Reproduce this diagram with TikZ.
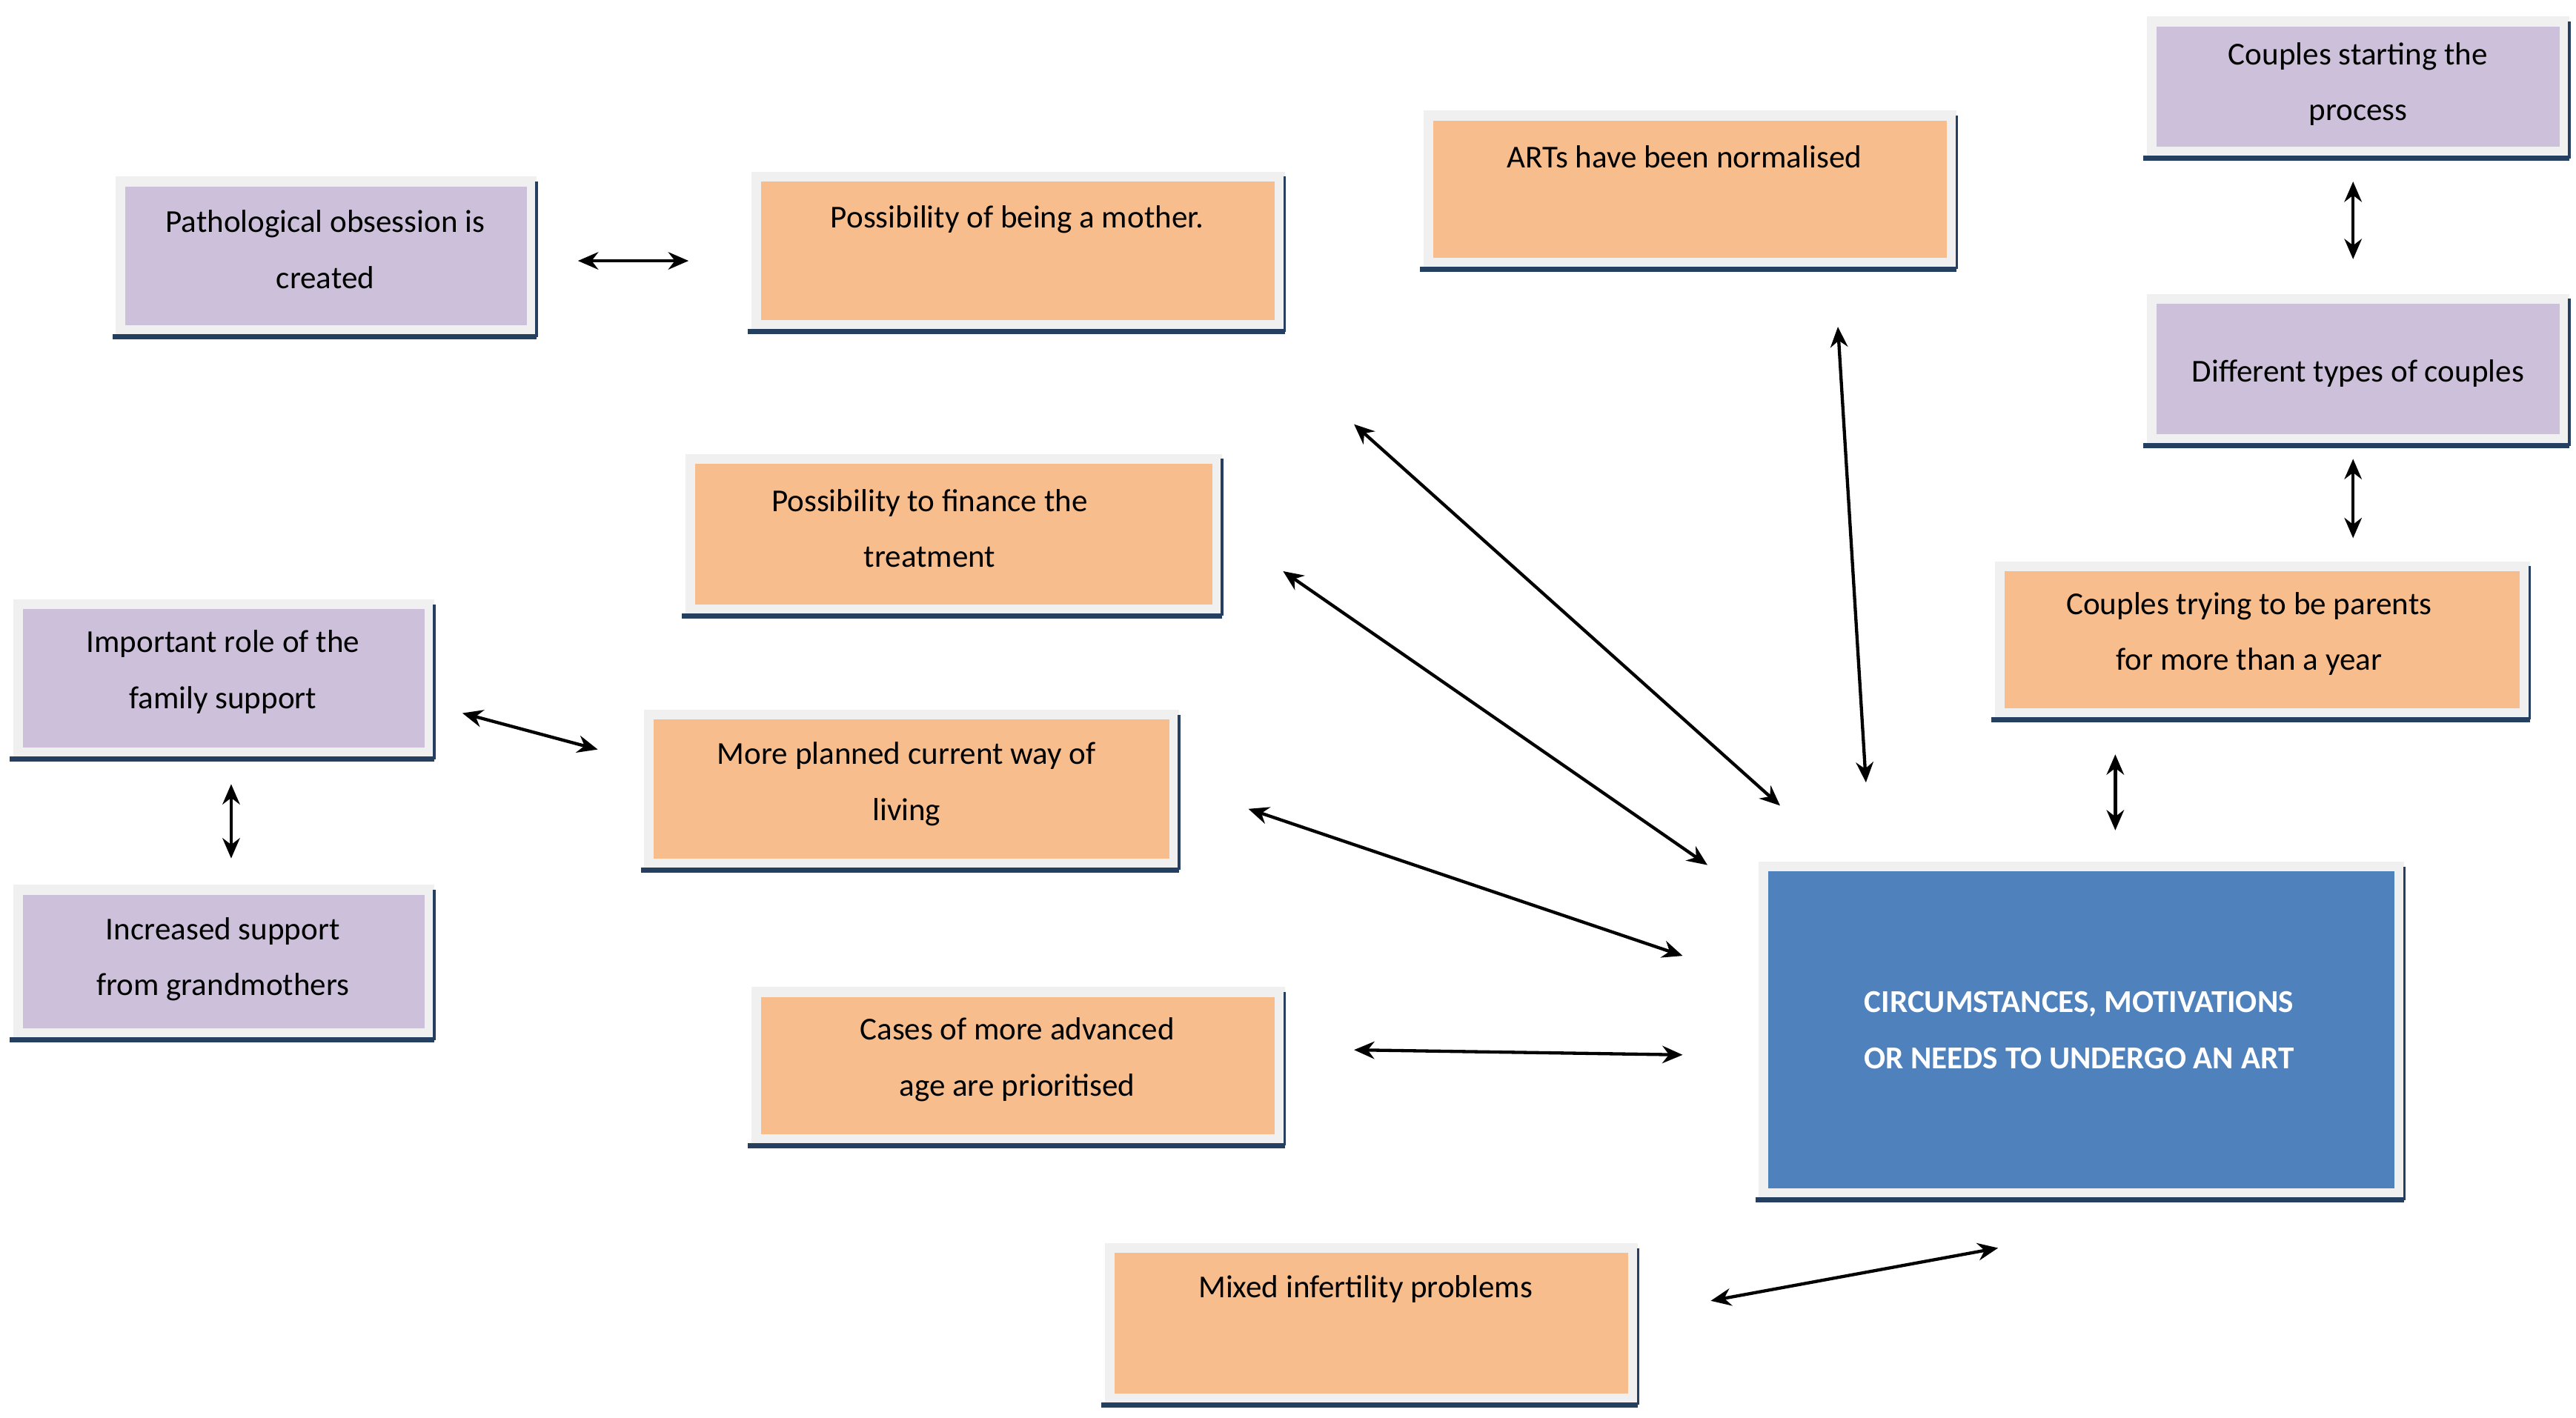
\documentclass[tikz,border=0pt]{standalone}
\usepackage{fontspec}
\setmainfont{Carlito}
\usetikzlibrary{arrows.meta}
\definecolor{orn}{HTML}{F8BD8D}
\definecolor{pur}{HTML}{CCC0DA}
\definecolor{frm}{HTML}{F0F0F0}
\definecolor{drk}{HTML}{243F60}
\definecolor{blu}{HTML}{4F81BD}
\newcommand\mybox[9]{%
  \fill[frm] (#2,#3) rectangle (#4,#5);
  \fill[#6] (#2+6,#3+6) rectangle (#4-6,#5-7);
  \draw[drk,line width=1.8pt] (#2-2,#5) -- (#4,#5);
  \draw[drk,line width=0.9pt] (#4,#3+3) -- (#4,#5);
  \node[inner sep=0pt] (#1) at ({(#2+#4)/2},{(#3+#5)/2}) [minimum width={(#4-#2)*0.02cm}, minimum height={(#5-#3)*0.02cm}] {};
  \node[txt] at (#7,#8) {#9};
}
\begin{document}
\begin{tikzpicture}[x=0.02cm,y=-0.02cm,
  txt/.style={align=center,font=\fontsize{11}{19.3}\selectfont,inner sep=0pt},
  arr/.style={{Stealth[length=7pt,width=6pt]}-{Stealth[length=7pt,width=6pt]},line width=1.1pt}]
\useasboundingbox (0,0) rectangle (1560,858.6);
\mybox{b1}{70}{107}{325}{204}{pur}{197}{151}{Pathological obsession is\\created}
\mybox{b2}{455}{104}{778}{201}{orn}{616}{133}{Possibility of being a mother.}
\mybox{b3}{862}{67}{1185}{163}{orn}{1020}{95}{ARTs have been normalised}
\mybox{b4}{1300}{10}{1556}{96}{pur}{1428}{51}{Couples starting the\\process}
\mybox{b5}{1300}{178}{1556}{270}{pur}{1428}{226}{Different types of couples}
\mybox{b6}{1208}{340}{1532}{436}{orn}{1362}{384}{Couples trying to be parents\\for more than a year}
\mybox{b7}{415}{275}{740}{373}{orn}{563}{320}{Possibility to finance the\\treatment}
\mybox{b8}{8}{363}{263}{460}{pur}{135}{407}{Important role of the\\family support}
\mybox{b9}{390}{430}{714}{527}{orn}{549}{475}{More planned current way of\\living}
\mybox{b10}{8}{536}{263}{630}{pur}{135}{581}{Increased support\\from grandmothers}
\mybox{b11}{455}{598}{778}{694}{orn}{616}{642}{Cases of more advanced\\age are prioritised}
\mybox{b12}{1065}{522}{1456}{727}{blu}{1259}{624}{\color{white}\bfseries CIRCUMSTANCES, MOTIVATIONS\\\color{white}\bfseries OR NEEDS TO UNDERGO AN ART}
\mybox{b13}{669}{753}{992}{851}{orn}{827}{781}{Mixed infertility problems}
\coordinate (a1) at (350,158); \coordinate (a2) at (417,158);
\coordinate (c1) at (1113,198); \coordinate (c2) at (1130,474);
\coordinate (d1) at (820,257); \coordinate (d2) at (1078,488);
\coordinate (e1) at (777,346); \coordinate (e2) at (1034,524);
\coordinate (f1) at (280,432); \coordinate (f2) at (362,454);
\coordinate (g1) at (756,490); \coordinate (g2) at (1019,579);
\coordinate (h1) at (820,636); \coordinate (h2) at (1019,639);
\coordinate (i1) at (1036,788); \coordinate (i2) at (1210,756);
\coordinate (j1) at (1425,110); \coordinate (j2) at (1425,157);
\coordinate (k1) at (1425,278); \coordinate (k2) at (1425,326);
\coordinate (l1) at (1281,457); \coordinate (l2) at (1281,503);
\coordinate (m1) at (140,475); \coordinate (m2) at (140,520);
\foreach \p in {a,c,d,e,f,g,h,i,j,k,l,m} \draw[arr] (\p1) -- (\p2);
\end{tikzpicture}
\end{document}
